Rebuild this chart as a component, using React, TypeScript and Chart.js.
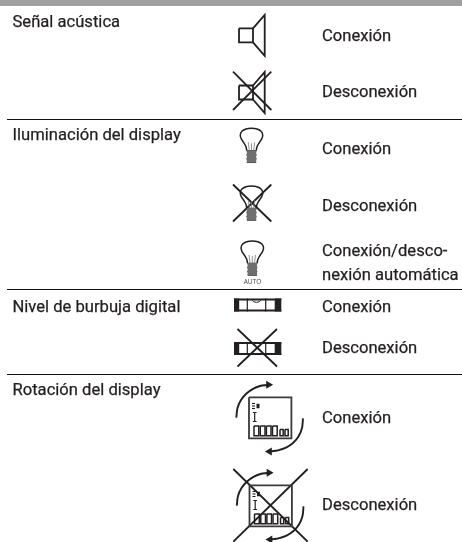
import React, { useEffect, useRef } from "react";
import { Chart, registerables } from "chart.js";

Chart.register(...registerables);

type P = [number, number];

// ---------- text content ----------
const functionLabels = ["Señal acústica", "Iluminación del display", "Nivel de burbuja digital", "Rotación del display"];
const functionBaselines = [26.5, 140, 311.5, 395];
const stateLabels = ["Conexión", "Desconexión", "Conexión", "Desconexión", "Conexión/desco-", "nexión automática", "Conexión", "Desconexión", "Conexión", "Desconexión"];
const stateBaselines = [40.5, 96.5, 153.5, 210.5, 256, 280, 311.5, 353, 423, 510];
const autoLabel = "AUTO";

// ---------- rules ----------
const ruleRows = [119.5, 289.5, 374.5];

// ---------- icon outlines, in page units, relative to each icon's origin ----------
const speakerBox: P[] = [[0, 13.5], [14, 13.5], [14, 27.5], [0, 27.5], [0, 13.5]];
const speakerHorn: P[] = [[14, 13.5], [25.7, 0], [25.7, 41], [14, 27.5]];

const bulbGlass: P[] = [[-4.8, 22], [-5.5, 18.5], [-8, 14], [-10.5, 10], [-11.2, 6.5], [-9.6, 3], [-5.5, 0.7], [0, 0], [5.5, 0.7], [9.6, 3], [11.2, 6.5], [10.5, 10], [8, 14], [5.5, 18.5], [4.8, 22]];
const bulbFilamentA: P[] = [[-2.2, 22], [-3.2, 14]];
const bulbFilamentB: P[] = [[0, 22], [0, 15]];
const bulbFilamentC: P[] = [[2.2, 22], [3.2, 14]];
const bulbBaseBody: P[] = [[0, 22], [0, 34.5]];
const bulbBaseRings: P[][] = [[[-5, 22.5], [5, 22.5]], [[-5, 26.5], [5, 26.5]], [[-5, 30.5], [5, 30.5]], [[-4.6, 34], [4.6, 34]]];

const levelTop: P[] = [[0, 1], [47.3, 1]];
const levelBottom: P[] = [[0, 11.9], [47.3, 11.9]];
const levelCapLeft: P[] = [[2.6, 0], [2.6, 12.9]];
const levelCapRight: P[] = [[44, 0], [44, 12.9]];
const levelDividerA: P[] = [[13.3, 0], [13.3, 12.9]];
const levelDividerB: P[] = [[31.7, 0], [31.7, 12.9]];
const levelBubble: P[] = [[17.5, 1], [19.5, 3], [22.5, 3.8], [25.5, 3], [27.5, 1]];

const displayFrame: P[] = [[249, 397.3], [291.4, 397.3], [291.4, 438.3], [249, 438.3], [249, 397.3]];
const displayBattery: P[] = [[256.5, 406], [259.5, 406]];
const displayBatteryTicks: P[][] = [[[252, 403.5], [255, 403.5]], [[252, 406], [255, 406]], [[252, 408.5], [255, 408.5]]];
const displayCursor: P[] = [[254.7, 412.5], [254.7, 421.5]];
const displayCursorCaps: P[][] = [[[252.8, 412.5], [256.6, 412.5]], [[252.8, 421.5], [256.6, 421.5]]];
const displayDigits: P[][] = [
  [[254, 426], [258.8, 426], [258.8, 435.7], [254, 435.7], [254, 426]],
  [[260.3, 426], [265, 426], [265, 435.7], [260.3, 435.7], [260.3, 426]],
  [[266.4, 426], [271, 426], [271, 435.7], [266.4, 435.7], [266.4, 426]],
  [[272.5, 426], [277.2, 426], [277.2, 435.7], [272.5, 435.7], [272.5, 426]],
  [[280, 429.5], [283.2, 429.5], [283.2, 435.7], [280, 435.7], [280, 429.5]],
  [[285, 429.5], [288.2, 429.5], [288.2, 435.7], [285, 435.7], [285, 429.5]],
];
const arrowUpperArc: P[] = [[236.3, 417.7], [237.5, 408], [241, 400], [246.5, 393.5], [253, 388.8], [260, 386], [267, 385]];
const arrowLowerArc: P[] = [[303, 418.3], [302, 428], [298.5, 436.5], [293, 443], [286, 447.6], [278, 450.3], [271, 451.3]];
const arrowUpperTip: P[] = [[268.5, 384.8]];
const arrowLowerTip: P[] = [[269.5, 451.4]];

// ---------- icon crosses ----------
const speakerCrossA: P[] = [[233, 71.7], [271.3, 110]];
const speakerCrossB: P[] = [[233, 110], [271.3, 71.7]];
const bulbCrossA: P[] = [[233, 184.5], [271.3, 221.5]];
const bulbCrossB: P[] = [[233, 221.5], [271.3, 184.5]];
const levelCrossA: P[] = [[237.5, 329], [277, 366.5]];
const levelCrossB: P[] = [[237.5, 366.5], [277, 329]];
const displayCrossA: P[] = [[233.3, 469], [307.7, 541.7]];
const displayCrossB: P[] = [[233.3, 541.7], [307.7, 469]];

// ---------- icon origins ----------
const speakerOn: P = [239, 14.8];
const speakerOff: P = [239, 72];
const bulbOn: P = [251.5, 128.3];
const bulbOff: P = [251.5, 186];
const bulbAuto: P = [252.3, 241];
const levelOn: P = [234, 298.5];
const levelOff: P = [234, 342];
const displayOff: P = [0.5, 88];
const autoAnchor: P = [252.5, 283.5];

const INK = "#231f20";

const at = (pts: P[], o: P) => pts.map(([x, y]) => ({ x: x + o[0], y: y + o[1] }));
const line = (pts: P[], o: P = [0, 0], borderWidth = 1.8, borderColor = INK, tension = 0) => ({
  data: at(pts, o),
  showLine: true,
  pointRadius: 0,
  borderWidth,
  borderColor,
  tension,
  borderJoinStyle: "miter" as const,
});
const tip = (pts: P[], o: P, rotation: number) => ({
  data: at(pts, o),
  showLine: false,
  pointStyle: "triangle" as const,
  pointRadius: 4.6,
  rotation,
  pointBackgroundColor: INK,
  pointBorderWidth: 0,
});

const speaker = (o: P) => [line(speakerBox, o), line(speakerHorn, o)];
const bulb = (o: P) => [
  line(bulbGlass, o, 1.5, INK, 0.35),
  line(bulbFilamentA, o, 0.8, "#777"),
  line(bulbFilamentB, o, 0.8, "#777"),
  line(bulbFilamentC, o, 0.8, "#777"),
  line(bulbBaseBody, o, 9.4, "#6f6f6f"),
  ...bulbBaseRings.map((r) => line(r, o, 1.5, INK)),
];
const level = (o: P) => [
  line(levelTop, o, 2),
  line(levelBottom, o, 2),
  line(levelCapLeft, o, 5.2),
  line(levelCapRight, o, 6.6),
  line(levelDividerA, o, 1.2),
  line(levelDividerB, o, 1.2),
];
const display = (o: P) => [
  line(displayFrame, o, 1.8, "#3a3a3a"),
  line(displayBattery, o, 4.5),
  ...displayBatteryTicks.map((r) => line(r, o, 1.1)),
  line(displayCursor, o, 1.2),
  ...displayCursorCaps.map((r) => line(r, o, 1)),
  ...displayDigits.map((r) => line(r, o, 1.5)),
  line(arrowUpperArc, o, 1.9, INK, 0.35),
  line(arrowLowerArc, o, 1.9, INK, 0.35),
  tip(arrowUpperTip, o, 90),
  tip(arrowLowerTip, o, -90),
];

export default function App() {
  const ref = useRef<HTMLCanvasElement>(null);
  useEffect(() => {
    if (!ref.current) return;
    const textPlugin = {
      id: "figureText",
      afterDatasetsDraw(chart: any) {
        const { ctx, scales } = chart;
        ctx.save();
        ctx.fillStyle = INK;
        ctx.strokeStyle = INK;
        ctx.lineWidth = 0.25;
        ctx.textBaseline = "alphabetic";
        ctx.textAlign = "left";
        ctx.font = '16.6px Roboto';
        const put = (t: string, x: number, y: number) => {
          const px = scales.x.getPixelForValue(x);
          const py = scales.y.getPixelForValue(y);
          ctx.fillText(t, px, py);
          ctx.strokeText(t, px, py);
        };
        functionLabels.forEach((t, i) => put(t, 12.5, functionBaselines[i]));
        stateLabels.forEach((t, i) => put(t, 322, stateBaselines[i]));
        ctx.font = '6.5px "Open Sans"';
        ctx.textAlign = "center";
        ctx.fillStyle = "#444";
        ctx.fillText(autoLabel, scales.x.getPixelForValue(autoAnchor[0]), scales.y.getPixelForValue(autoAnchor[1]));
        ctx.restore();
      },
    };
    const chart = new Chart(ref.current, {
      type: "scatter",
      data: {
        datasets: [
          line([[0, 3], [462, 3]], [0, 0], 6, "#a0a0a0"),
          ...ruleRows.map((y) => line([[7, y], [462, y]], [0, 0], 1, "#111")),
          ...speaker(speakerOn),
          ...speaker(speakerOff),
          line(speakerCrossA), line(speakerCrossB),
          ...bulb(bulbOn),
          ...bulb(bulbOff),
          line(bulbCrossA), line(bulbCrossB),
          ...bulb(bulbAuto),
          ...level(levelOn),
          line(levelBubble, levelOn, 1, INK, 0.3),
          ...level(levelOff),
          line(levelCrossA), line(levelCrossB),
          ...display([0, 0]),
          ...display(displayOff),
          line(displayCrossA), line(displayCrossB),
        ] as any,
      },
      options: {
        animation: false,
        responsive: false,
        events: [],
        layout: { padding: 0, autoPadding: false },
        plugins: { legend: { display: false }, tooltip: { enabled: false }, title: { display: false } },
        scales: {
          x: { type: "linear", min: 0, max: 462, display: false },
          y: { type: "linear", min: 0, max: 542, reverse: true, display: false },
        },
      },
      plugins: [textPlugin],
    });
    return () => chart.destroy();
  }, []);
  return (
    <div style={{ position: "absolute", left: 0, top: 0, width: 462, height: 542, background: "#fff" }}>
      <canvas ref={ref} width={462} height={542} style={{ display: "block" }} />
    </div>
  );
}
